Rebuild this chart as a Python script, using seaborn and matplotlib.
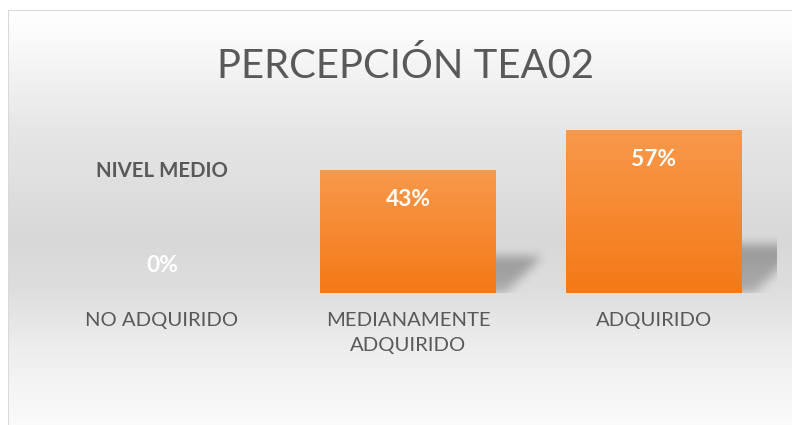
import numpy as np
import pandas as pd
import matplotlib
matplotlib.use("Agg")
import matplotlib.pyplot as plt
import seaborn as sns

# ---- chart content ----
title = "PERCEPCIÓN TEA02"
series_name = "NIVEL MEDIO"
categories = ["NO ADQUIRIDO", "MEDIANAMENTE ADQUIRIDO", "ADQUIRIDO"]
tick_labels = ["NO ADQUIRIDO", "MEDIANAMENTE\nADQUIRIDO", "ADQUIRIDO"]
values = [0.00, 0.43, 0.57]

df = pd.DataFrame({"categoria": categories, "valor": values})

W, H = 792, 425
Y_MAX = 0.6
FONT = "Lato"
TEXT_GREY = "#595959"

sns.set_theme(style="white")
plt.rcParams["font.family"] = [FONT, "DejaVu Sans"]

fig = plt.figure(figsize=(W / 100, H / 100), dpi=100)

# ---- chart-area background: soft vertical grey gradient inside a thin frame ----
bg_ax = fig.add_axes([0, 0, 1, 1], zorder=0)
bg_ax.set_axis_off()
rows = np.arange(H)
grey = np.interp(rows, [10, 40, 130, 240, 290, 350, 425],
                 [255, 250, 230, 216, 222, 238, 251]) / 255.0
bg = np.ones((H, W, 3))
bg[11:, 9:, :] = grey[11:, None, None]
frame = np.array([0xd9, 0xd9, 0xd9]) / 255.0
bg[10, 8:, :] = frame
bg[10:, 8, :] = frame
bg_ax.imshow(bg, extent=(0, W, H, 0), aspect="auto", interpolation="nearest")
bg_ax.set_xlim(0, W)
bg_ax.set_ylim(H, 0)

# ---- plot area (pixel geometry of the category band) ----
left_px, right_px = 39, 777
base_px, top_px = 293, 293 - 171.6
ax = fig.add_axes([left_px / W, (H - base_px) / H,
                   (right_px - left_px) / W, (base_px - top_px) / H], zorder=2)
ax.patch.set_alpha(0)

px_per_x = (right_px - left_px) / 3.0
px_per_y = (base_px - top_px) / Y_MAX
BAR_W = 176 / px_per_x

sns.barplot(data=df, x="categoria", y="valor", order=categories, ax=ax,
            width=BAR_W, color="#f5861f", saturation=1, zorder=3,
            edgecolor="none", linewidth=0)


def gaussian_blur(a, sigma):
    r = int(3 * sigma)
    k = np.exp(-0.5 * (np.arange(-r, r + 1) / sigma) ** 2)
    k /= k.sum()
    a = np.apply_along_axis(lambda m: np.convolve(m, k, mode="same"), 0, a)
    a = np.apply_along_axis(lambda m: np.convolve(m, k, mode="same"), 1, a)
    return a


def draw_shadow(ax, x_right, height):
    """Soft slanted floor shadow to the right of a bar."""
    h_px = height * px_per_y
    sh = 0.30 * h_px
    u = np.arange(-20, 80)            # px from bar edge
    v = np.arange(0, 80)              # px above baseline
    U, V = np.meshgrid(u, v)
    mask = ((V <= sh) & (U <= 0.25 * sh + V)).astype(float)
    # a little lighter towards the floor line
    mask *= 0.75 + 0.25 * np.clip(V / max(sh, 1), 0, 1)
    alpha = gaussian_blur(mask, 5.0) * 0.30
    img = np.zeros((len(v), len(u), 4))
    img[..., 3] = alpha
    ext = (x_right + u[0] / px_per_x, x_right + u[-1] / px_per_x,
           0, v[-1] / px_per_y)
    ax.imshow(img, extent=ext, origin="lower", aspect="auto",
              interpolation="bilinear", zorder=2)


# orange vertical gradient on each bar, plus its shadow
grad = np.linspace(0, 1, 256)[:, None]
top_col = np.array([248, 153, 76]) / 255.0
bot_col = np.array([244, 121, 22]) / 255.0
bars = list(ax.patches)
for patch in bars:
    x0, y0 = patch.get_x(), patch.get_y()
    w, h = patch.get_width(), patch.get_height()
    if h <= 0:
        continue
    draw_shadow(ax, x0 + w, h)
    cols = top_col * (1 - grad[..., None]) + bot_col * grad[..., None]
    im = ax.imshow(cols, extent=(x0, x0 + w, y0, y0 + h), origin="upper",
                   aspect="auto", interpolation="bilinear", zorder=3.5)
    im.set_clip_path(patch)

ax.set_xlim(-0.5, 2.5)
ax.set_ylim(0, Y_MAX)
sns.despine(ax=ax, left=True, bottom=True)
ax.set_yticks([])
ax.set_xlabel("")
ax.set_ylabel("")

renderer = fig.canvas.get_renderer()


def fit_width(txt, target_px):
    w = txt.get_window_extent(renderer).width
    txt.set_fontsize(txt.get_fontsize() * target_px / w)
    return txt.get_fontsize()


# ---- category labels ----
ax.set_xticks(range(len(categories)))
ax.set_xticklabels(tick_labels)
probe = fig.text(0, 0, tick_labels[0], fontsize=14, family=[FONT, "DejaVu Sans"])
tick_fs = fit_width(probe, 152)
probe.remove()
ax.tick_params(axis="x", length=0, pad=19 * 0.72, labelsize=tick_fs,
               labelcolor=TEXT_GREY)
for lab in ax.get_xticklabels():
    lab.set_linespacing(1.55)

# ---- data labels ----
probe = fig.text(0, 0, "0%", fontsize=14, fontweight="bold",
                 family=[FONT, "DejaVu Sans"])
val_fs = fit_width(probe, 32)
probe.remove()
for i, val in enumerate(values):
    label = f"{val:.0%}"
    offset_px = -36 if val > 0 else 20.7
    ax.annotate(label, xy=(i, val), xytext=(0, offset_px * 0.72),
                textcoords="offset points", ha="center", va="baseline",
                fontsize=val_fs, fontweight="bold", color="white", zorder=5)

# series name above the first category
series_txt = ax.annotate(series_name, xy=(0, 0), xytext=(0, (base_px - 177.3) * 0.72),
                         textcoords="offset points", ha="center", va="baseline",
                         fontsize=12, fontweight="bold", color=TEXT_GREY, zorder=5)
fit_width(series_txt, 132)

# ---- title ----
title_txt = fig.text(406 / W, 1 - 77.5 / H, title, ha="center", va="baseline",
                     fontsize=30, color=TEXT_GREY)
fit_width(title_txt, 376)

fig.savefig("out.png", dpi=100)
